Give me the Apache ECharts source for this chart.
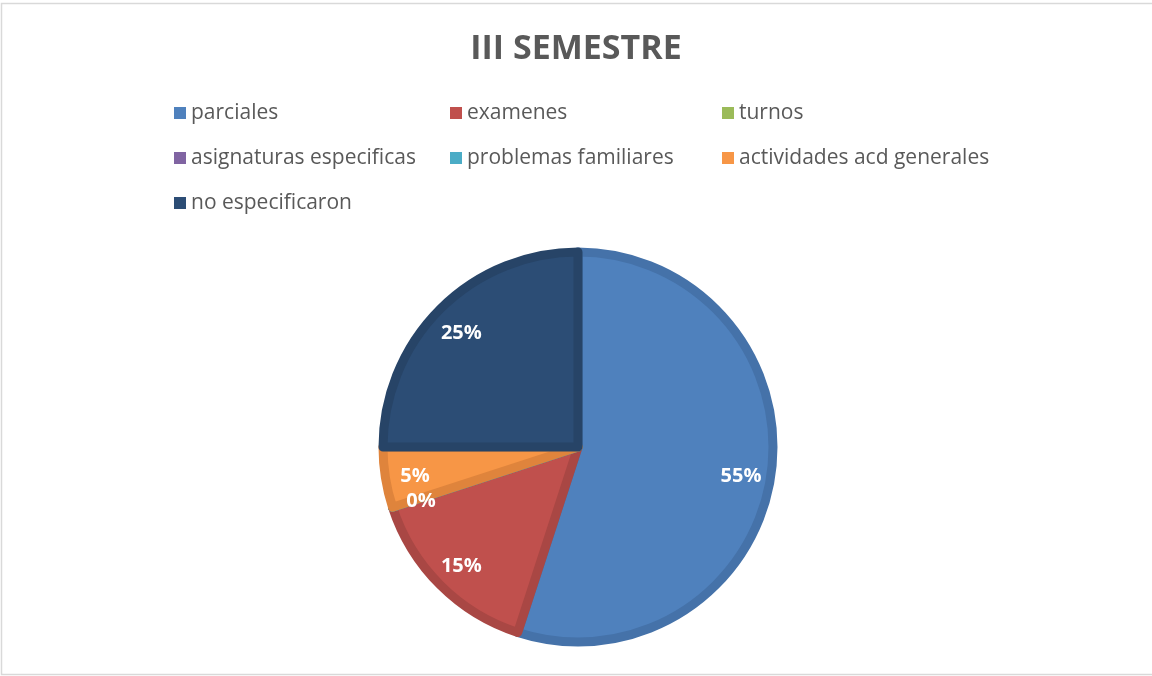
<!DOCTYPE html>
<html>
<head>
<meta charset="utf-8">
<script src="https://cdn.jsdelivr.net/npm/echarts@6/dist/echarts.min.js"></script>
<style>
  html, body { margin: 0; padding: 0; background: #fff; }
  #myChart { width: 1152px; height: 676px; }
</style>
</head>
<body>
<div id="myChart"></div>
<script>
  // datos del grafico
  var categorias = ['parciales', 'examenes', 'turnos', 'asignaturas especificas',
                    'problemas familiares', 'actividades acd generales', 'no especificaron'];
  var valores = [55, 15, 0, 0, 0, 5, 25];
  var colores = ['#4F81BD', '#C0504D', '#9BBB59', '#8064A2', '#4BACC6', '#F79646', '#2C4D75'];
  var bordes = ['#4572A9', '#A94744', '#88A54E', '#71588F', '#4298AE', '#DF843C', '#274467'];

  // columnas de la leyenda
  var leyendaCol1 = ['parciales', 'asignaturas especificas', 'no especificaron'];
  var leyendaCol2 = ['examenes', 'problemas familiares'];
  var leyendaCol3 = ['turnos', 'actividades acd generales'];

  var fuente = '"Open Sans", "Noto Sans", sans-serif';

  var datos = categorias.map(function (c, i) {
    return {
      name: c,
      value: valores[i],
      itemStyle: { color: colores[i], borderColor: bordes[i] }
    };
  });

  function leyenda(items, x) {
    return {
      data: items,
      orient: 'vertical',
      left: x,
      top: 101,
      icon: 'rect',
      itemWidth: 12,
      itemHeight: 12,
      itemGap: 21,
      padding: 0,
      selectedMode: false,
      itemStyle: { borderWidth: 0 },
      textStyle: { fontFamily: fuente, fontSize: 21, color: '#595959', lineHeight: 24 }
    };
  }

  var myChart = echarts.init(document.getElementById('myChart'), null, { renderer: 'canvas' });
  myChart.setOption({
    backgroundColor: '#ffffff',
    animation: false,
    title: {
      text: 'III SEMESTRE',
      left: 'center',
      top: 27,
      textStyle: { fontFamily: fuente, fontSize: 34, fontWeight: 'bold', color: '#595959' }
    },
    graphic: [{
      type: 'rect',
      shape: { x: 1.5, y: 3.5, width: 1160, height: 671 },
      style: { fill: 'none', stroke: '#D9D9D9', lineWidth: 1.5 },
      silent: true
    }],
    legend: [leyenda(leyendaCol1, 174), leyenda(leyendaCol2, 450), leyenda(leyendaCol3, 722)],
    series: [
      {
        name: 'III SEMESTRE',
        type: 'pie',
        center: [578, 447],
        radius: [0, 195],
        startAngle: 90,
        clockwise: true,
        stillShowZeroSum: true,
        itemStyle: { borderWidth: 9 },
        label: { show: false },
        labelLine: { show: false },
        emphasis: { disabled: true },
        data: datos
      },
      {
        // serie solo para las etiquetas de porcentaje
        name: 'etiquetas',
        type: 'pie',
        center: [578, 450],
        radius: [126, 198],
        startAngle: 90,
        clockwise: true,
        silent: true,
        itemStyle: { color: 'rgba(0,0,0,0)', borderWidth: 0 },
        label: {
          show: true,
          position: 'inside',
          formatter: '{d}%',
          fontFamily: fuente,
          fontSize: 20,
          fontWeight: 'bold',
          color: '#ffffff'
        },
        labelLine: { show: false },
        emphasis: { disabled: true },
        data: categorias.map(function (c, i) { return { name: c, value: valores[i] }; })
      }
    ]
  });
</script>
</body>
</html>
